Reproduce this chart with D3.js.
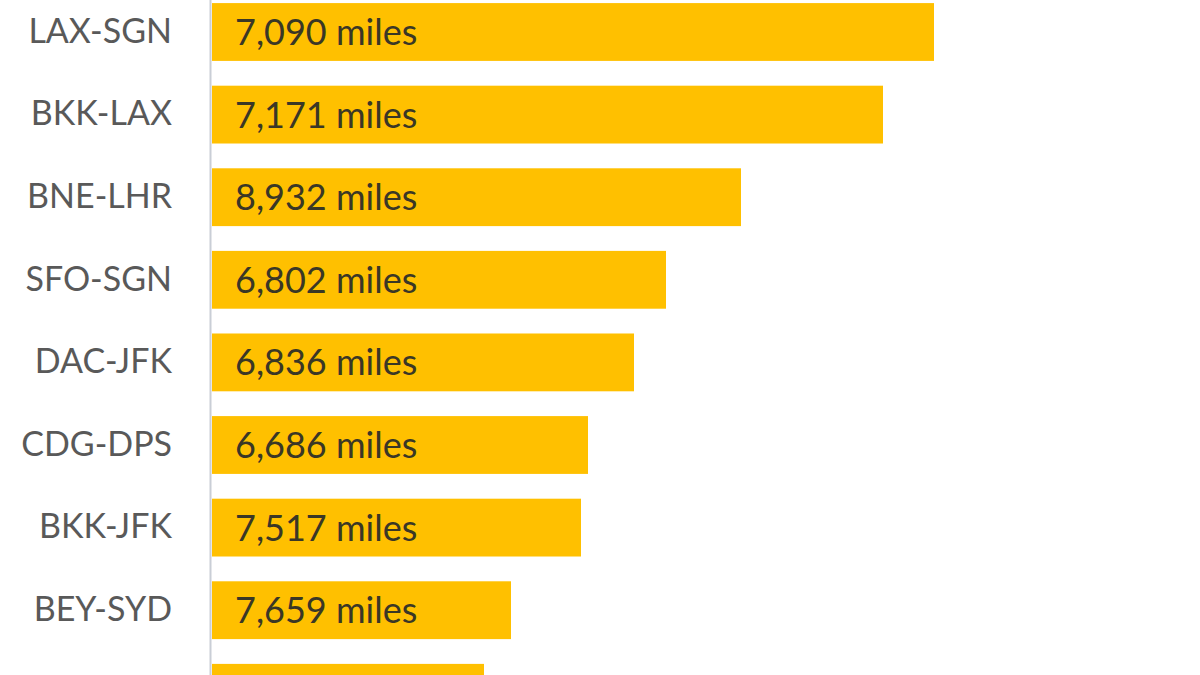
<!DOCTYPE html>
<html><head><meta charset="utf-8">
<script src="https://cdn.jsdelivr.net/npm/d3@7"></script>
<style>html,body{margin:0;padding:0;background:#fff;overflow:hidden}</style>
</head><body>
<svg id="chart" width="1200" height="675"></svg>
<script>
const routes = ["LAX-SGN","BKK-LAX","BNE-LHR","SFO-SGN","DAC-JFK","CDG-DPS","BKK-JFK","BEY-SYD",""];
const miles = ["7,090 miles","7,171 miles","8,932 miles","6,802 miles","6,836 miles","6,686 miles","7,517 miles","7,659 miles",""];
const barValues = [722, 671, 529, 454, 422, 376, 369, 299, 272];

const svg = d3.select("#chart");
const x0 = 212;
const x = d3.scaleLinear().domain([0, 1000]).range([x0, x0 + 1000]);
const y = d3.scaleBand().domain(d3.range(routes.length))
  .range([-9.3, 734.1]).paddingInner(0.3).paddingOuter(0.15);

const font = "Lato, 'Open Sans', sans-serif";

svg.selectAll("rect.bar").data(barValues).join("rect")
  .attr("class","bar")
  .attr("x", x(0))
  .attr("y", (d,i)=>y(i))
  .attr("width", d=>x(d)-x(0))
  .attr("height", y.bandwidth())
  .attr("fill", "#FFC000");

svg.selectAll("text.val").data(miles).join("text")
  .attr("class","val")
  .attr("x", x(0) + 23)
  .attr("y", (d,i)=>y(i)+y.bandwidth()/2)
  .attr("dy","0.36em")
  .attr("font-family", font)
  .attr("font-size", 36)
  .attr("fill", "#3a3726")
  .text(d=>d);

const axis = d3.axisLeft(y).tickSize(0).tickPadding(38).tickFormat(i=>routes[i]);
const g = svg.append("g").attr("transform", `translate(210,0)`).call(axis);
g.select(".domain").attr("stroke","#c9ced6").attr("stroke-width",2);
g.selectAll("text").attr("font-family", font).attr("font-size", 34).attr("fill","#595959");
</script>
</body></html>
